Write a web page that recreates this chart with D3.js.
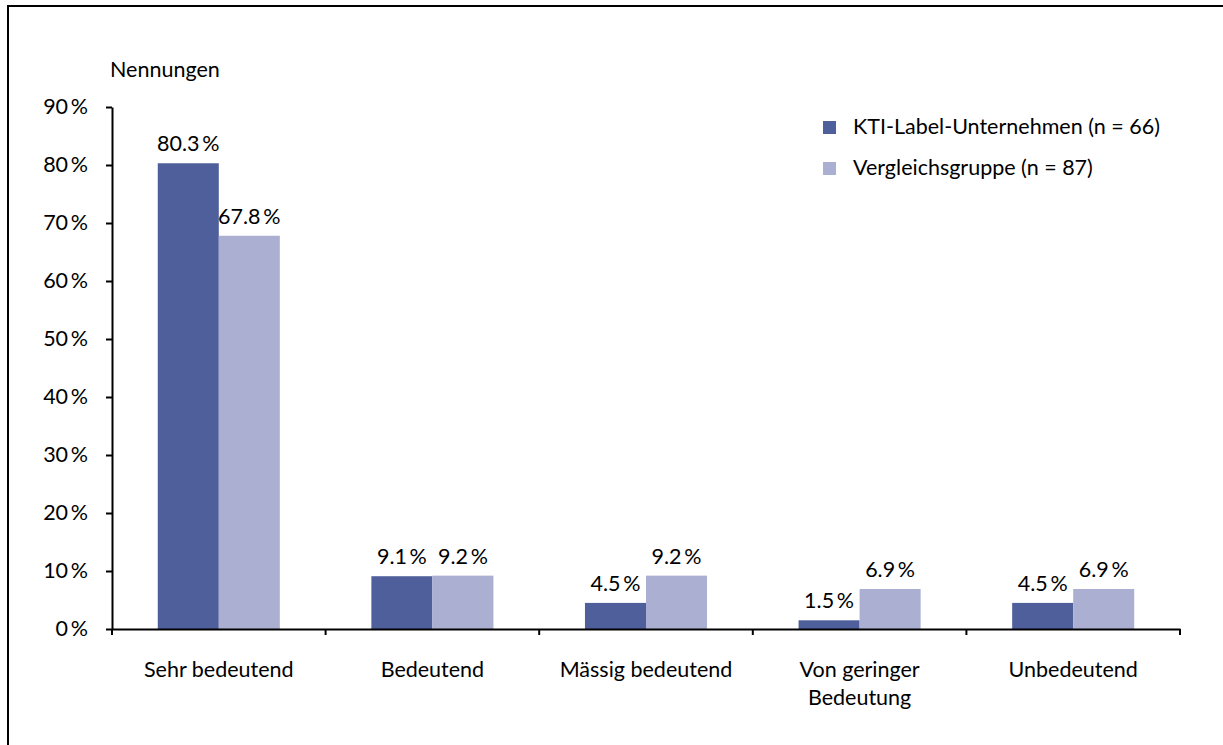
<!DOCTYPE html>
<html>
<head>
<meta charset="utf-8">
<script src="https://cdn.jsdelivr.net/npm/d3@7"></script>
<style>
  body { margin: 0; background: #fff; }
  text { font-family: Lato, "Open Sans", sans-serif; fill: #000; }
</style>
</head>
<body>
<div id="chart"></div>
<script>
// Data
const categories = ["Sehr bedeutend", "Bedeutend", "Mässig bedeutend", "Von geringer\nBedeutung", "Unbedeutend"];
const seriesNames = ["KTI-Label-Unternehmen (n = 66)", "Vergleichsgruppe (n = 87)"];
const ktiValues = [80.3, 9.1, 4.5, 1.5, 4.5];
const vergleichValues = [67.8, 9.2, 9.2, 6.9, 6.9];
const yTicks = [0, 10, 20, 30, 40, 50, 60, 70, 80, 90];

const colors = ["#4f5f9b", "#abb0d2"];
const fontSize = 21.5;

const W = 1223, H = 745;
const plot = { left: 112, right: 1180, top: 107, bottom: 629 };

const svg = d3.select("#chart")
  .append("svg")
  .attr("width", W)
  .attr("height", H);

// outer frame (only top and left edges visible in the picture)
svg.append("rect")
  .attr("x", 8).attr("y", 6)
  .attr("width", W + 10).attr("height", H + 10)
  .attr("fill", "none")
  .attr("stroke", "#000")
  .attr("stroke-width", 2);

// Scales
const x0 = d3.scaleBand().domain(categories).range([plot.left, plot.right]).padding(0);
const x1 = d3.scaleBand().domain([0, 1]).range([0, x0.bandwidth()]).paddingInner(0).paddingOuter(0.75);
const y = d3.scaleLinear().domain([0, 90]).range([plot.bottom, plot.top]);

const rows = categories.map((c, i) => ({ cat: c, values: [ktiValues[i], vergleichValues[i]] }));

// Bars
const groups = svg.append("g").selectAll("g")
  .data(rows)
  .join("g")
  .attr("transform", d => `translate(${x0(d.cat)},0)`);

groups.selectAll("rect")
  .data(d => d.values.map((v, k) => ({ k, v })))
  .join("rect")
  .attr("x", d => x1(d.k))
  .attr("y", d => y(d.v))
  .attr("width", x1.bandwidth())
  .attr("height", d => y(0) - y(d.v))
  .attr("fill", d => colors[d.k]);

// Value labels
groups.selectAll("text")
  .data(d => d.values.map((v, k) => ({ k, v })))
  .join("text")
  .attr("x", d => x1(d.k) + x1.bandwidth() / 2)
  .attr("y", d => y(d.v) - 12)
  .attr("text-anchor", "middle")
  .style("font-size", fontSize + "px")
  .text(d => d.v.toFixed(1) + "\u2009%");

// Y axis
const yAxis = svg.append("g")
  .attr("transform", `translate(${plot.left},0)`)
  .call(d3.axisLeft(y).tickValues(yTicks).tickSize(6).tickSizeOuter(0).tickPadding(18)
    .tickFormat(d => d + "\u2009%"));
yAxis.select(".domain").attr("stroke", "#000").attr("stroke-width", 2);
yAxis.selectAll(".tick line").attr("stroke", "#000").attr("stroke-width", 2);
yAxis.selectAll(".tick text").style("font-size", fontSize + "px").attr("fill", "#000");

// X axis
const xAxis = svg.append("g")
  .attr("transform", `translate(0,${plot.bottom})`)
  .call(d3.axisBottom(x0).tickSize(0).tickSizeOuter(0).tickFormat(""));
xAxis.select(".domain").attr("stroke", "#000").attr("stroke-width", 2);
xAxis.selectAll(".tick").remove();

// category boundary ticks
const boundaries = categories.map(c => x0(c)).concat([x0.range()[1]]);
svg.append("g").selectAll("line")
  .data(boundaries)
  .join("line")
  .attr("x1", d => d).attr("x2", d => d)
  .attr("y1", plot.bottom).attr("y2", plot.bottom + 6)
  .attr("stroke", "#000")
  .attr("stroke-width", 2);

// category labels
svg.append("g").selectAll("text")
  .data(categories)
  .join("text")
  .attr("x", d => x0(d) + x0.bandwidth() / 2)
  .attr("y", plot.bottom + 48)
  .attr("text-anchor", "middle")
  .style("font-size", fontSize + "px")
  .each(function(d) {
    const lines = d.split("\n");
    d3.select(this).selectAll("tspan")
      .data(lines)
      .join("tspan")
      .attr("x", x0(d) + x0.bandwidth() / 2)
      .attr("dy", (l, i) => i === 0 ? 0 : 28)
      .text(l => l);
  });

// Y axis title
svg.append("text")
  .attr("x", 110)
  .attr("y", 77)
  .style("font-size", fontSize + "px")
  .text("Nennungen");

// Legend
const legend = svg.append("g").attr("transform", "translate(823,121)");
seriesNames.forEach((name, i) => {
  legend.append("rect")
    .attr("x", 0).attr("y", i * 41)
    .attr("width", 13).attr("height", 13)
    .attr("fill", colors[i]);
  legend.append("text")
    .attr("x", 30).attr("y", i * 41 + 13)
    .style("font-size", fontSize + "px")
    .text(name);
});
</script>
</body>
</html>
